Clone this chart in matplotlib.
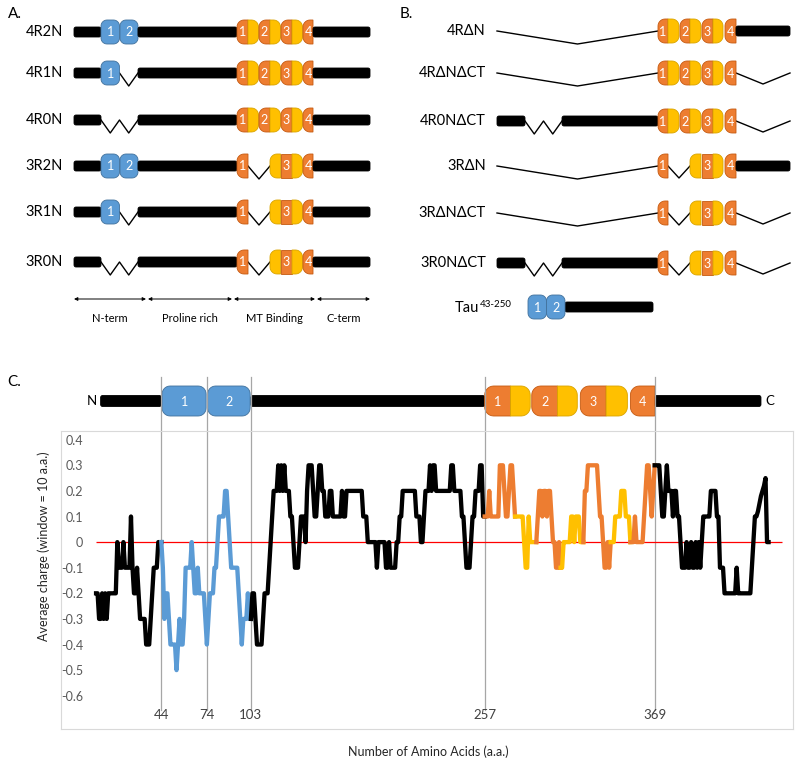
import numpy as np
import matplotlib.pyplot as plt
from matplotlib.patches import Polygon
from matplotlib.transforms import blended_transform_factory

plt.rcParams['font.family'] = ['Lato', 'DejaVu Sans']

# ---------------- data ----------------
# panel A: the six tau isoforms
a_isoforms = ['4R2N', '4R1N', '4R0N', '3R2N', '3R1N', '3R0N']
a_n_inserts = [2, 1, 0, 2, 1, 0]
a_repeats = [4, 4, 4, 3, 3, 3]
a_domains = ['N-term', 'Proline rich', 'MT Binding', 'C-term']

# panel B: truncated constructs
b_constructs = ['4R\u0394N', '4R\u0394N\u0394CT', '4R0N\u0394CT', '3R\u0394N', '3R\u0394N\u0394CT', '3R0N\u0394CT']
b_n_term = ['dN', 'dN', '0N', 'dN', 'dN', '0N']
b_repeats = [4, 4, 4, 3, 3, 3]
b_c_term = [True, False, False, True, False, False]
fragment_name = 'Tau'
fragment_range = '43-250'

# panel C: domain borders (residue) and sliding window average charge per residue
c_boundaries = [44, 74, 103, 257, 369]
c_n_inserts = [(44.5, 73.5), (74.5, 102.5)]
c_repeats = [(257, 274, 287), (288, 305, 318), (320, 337, 351), (353, 369)]
c_n_tail = (4, 44)
c_linker = (103, 257)
c_c_tail = (369, 439)
y_ticks = [-0.6, -0.5, -0.4, -0.3, -0.2, -0.1, 0, 0.1, 0.2, 0.3, 0.4]
charge = [
    -0.2, -0.2, -0.3, -0.3, -0.2, -0.3, -0.2, -0.3, -0.2, -0.2,
    -0.2, -0.2, -0.2, -0.2, 0, -0.1, -0.1, -0.1, 0, -0.1,
    -0.1, -0.1, -0.1, 0.1, -0.1, -0.2, -0.2, -0.1, -0.2, -0.3,
    -0.3, -0.3, -0.3, -0.4, -0.4, -0.4, -0.3, -0.2, -0.1, -0.1,
    -0.1, 0, 0, 0, -0.1, -0.3, -0.2, -0.2, -0.3, -0.4,
    -0.4, -0.4, -0.4, -0.5, -0.4, -0.3, -0.4, -0.4, -0.3, -0.1,
    -0.1, -0.1, -0.1, 0, -0.1, -0.2, -0.2, -0.1, -0.2, -0.2,
    -0.2, -0.2, -0.3, -0.4, -0.3, -0.2, -0.2, -0.2, -0.1, -0.1,
    0, 0.1, 0.1, 0.1, 0.1, 0.2, 0.2, 0.1, 0, -0.1,
    -0.1, -0.1, -0.1, -0.1, -0.2, -0.3, -0.4, -0.3, -0.3, -0.3,
    -0.2, -0.3, -0.3, -0.2, -0.2, -0.3, -0.4, -0.4, -0.4, -0.4,
    -0.3, -0.2, -0.2, -0.2, -0.1, 0, 0.1, 0.2, 0.2, 0.2,
    0.3, 0.2, 0.3, 0.2, 0.3, 0.2, 0.2, 0.2, 0.1, 0.1,
    0, -0.1, -0.1, -0.1, 0, 0.1, 0.1, 0.1, 0, 0.2,
    0.3, 0.3, 0.3, 0.2, 0.1, 0.1, 0.2, 0.3, 0.3, 0.2,
    0.2, 0.1, 0.1, 0.1, 0.2, 0.2, 0.1, 0.1, 0.1, 0.1,
    0.1, 0.1, 0.2, 0.1, 0.1, 0.2, 0.2, 0.2, 0.2, 0.2,
    0.2, 0.2, 0.2, 0.2, 0.2, 0.2, 0.1, 0.1, 0.1, 0,
    0, 0, 0, 0, 0, -0.1, 0, 0, 0, 0,
    0, -0.1, -0.1, 0, -0.1, -0.1, -0.1, -0.1, 0, 0,
    0.1, 0.1, 0.2, 0.2, 0.2, 0.2, 0.2, 0.2, 0.2, 0.2,
    0.2, 0.1, 0.1, 0.1, 0, 0, 0.1, 0.2, 0.2, 0.2,
    0.3, 0.2, 0.3, 0.3, 0.2, 0.2, 0.2, 0.2, 0.2, 0.2,
    0.2, 0.2, 0.2, 0.2, 0.3, 0.3, 0.2, 0.2, 0.2, 0.2,
    0.2, 0.1, 0.1, 0, -0.1, -0.1, -0.1, 0, 0.1, 0.1,
    0.2, 0.2, 0.2, 0.3, 0.3, 0.1, 0.1, 0.1, 0.1, 0.2,
    0.1, 0.1, 0.1, 0.1, 0.1, 0.1, 0.3, 0.3, 0.3, 0.2,
    0.1, 0.1, 0.2, 0.3, 0.3, 0.2, 0.1, 0.1, 0.1, 0.1,
    0.1, 0.1, 0, -0.1, -0.1, 0.1, 0, 0, 0, 0,
    0, 0.1, 0.2, 0.2, 0.1, 0.2, 0.2, 0.1, 0.2, 0.2,
    0.1, 0, 0, -0.1, -0.1, 0, -0.1, -0.1, 0, 0,
    0, 0, 0, 0.1, 0.1, 0, 0.1, 0.1, 0.1, 0,
    0, 0, 0.2, 0.2, 0.3, 0.3, 0.3, 0.3, 0.3, 0.3,
    0.3, 0.2, 0.1, 0.1, 0, -0.1, -0.1, 0, -0.1, 0,
    0, 0, 0.1, 0.1, 0.1, 0.1, 0.2, 0.2, 0.2, 0.1,
    0.1, 0.1, 0, 0, 0, 0.1, 0, 0, 0, 0,
    0, 0.1, 0.2, 0.3, 0.3, 0.2, 0.1, 0.2, 0.3, 0.3,
    0.3, 0.3, 0.2, 0.1, 0.1, 0.2, 0.3, 0.2, 0.2, 0.2,
    0.1, 0.2, 0.2, 0.1, 0.1, 0, -0.1, -0.1, -0.1, 0,
    -0.1, -0.1, 0, -0.1, -0.1, 0, -0.1, 0, -0.1, 0,
    0.1, 0.1, 0.1, 0.1, 0.1, 0.2, 0.2, 0.2, 0.2, 0.1,
    0.1, -0.1, -0.1, -0.1, -0.2, -0.2, -0.2, -0.2, -0.2, -0.2,
    -0.2, -0.2, -0.1, -0.2, -0.2, -0.2, -0.2, -0.2, -0.2, -0.2,
    -0.2, -0.2, -0.1, 0, 0.1, 0.1, 0.12, 0.15, 0.18, 0.2,
    0.22, 0.25, 0, 0,
]
color_breaks = [1, 44, 103, 257, 277, 291, 307, 322, 340, 353, 369, 444]
zero_line_end = 453

BLUE, BLUE_EDGE = '#5b9bd5', '#41719c'
ORANGE, ORANGE_EDGE = '#ed7d31', '#c55a11'
YELLOW, YELLOW_EDGE = '#ffc000', '#d9a400'
segment_colors = ['black', BLUE, 'black', ORANGE, YELLOW, ORANGE, YELLOW,
                  ORANGE, YELLOW, ORANGE, 'black']

fig = plt.figure(figsize=(8, 7.75), dpi=100)
bg = fig.add_axes([0, 0, 1, 1])
bg.set_xlim(0, 800)
bg.set_ylim(775, 0)
bg.axis('off')

ax = fig.add_axes([61 / 800, 46 / 775, 732 / 800, 298 / 775])
ax.set_xlim(-22.1, 460.1)
ax.set_ylim(-0.73, 0.434)
ax.set_facecolor('none')


def rounded_shape(x0, x1, yc, h, rl=0.0, rr=0.0, sx=1.0):
    y0, y1 = yc - h / 2, yc + h / 2
    t = np.linspace(0, np.pi / 2, 8)
    pts = []
    for cx, cy, r, a0 in [(x0 + rl * sx, y0 + rl, rl, np.pi),
                          (x1 - rr * sx, y0 + rr, rr, 1.5 * np.pi),
                          (x1 - rr * sx, y1 - rr, rr, 0.0),
                          (x0 + rl * sx, y1 - rl, rl, 0.5 * np.pi)]:
        a = a0 + t
        pts += list(zip(cx + r * sx * np.cos(a), cy + r * np.sin(a)))
    return pts


def piece(x0, x1, yc, h, color, edge, rl=0.0, rr=0.0, sx=1.0, tr=None,
          text=None, fs=9):
    tr = tr or bg.transData
    bg.add_patch(Polygon(rounded_shape(x0, x1, yc, h, rl, rr, sx), closed=True,
                         facecolor=color, edgecolor=edge, lw=0.6,
                         transform=tr, zorder=3))
    if text:
        bg.text((x0 + x1) / 2, yc + 0.5, text, color='white', ha='center',
                va='center', fontsize=fs, transform=tr, zorder=4)


def bar(x0, x1, yc, t=10, sx=1.0, tr=None):
    piece(x0, x1, yc, t, 'black', 'black', 2, 2, sx, tr)


def zig(x0, x1, n_v, yc, depth, tr=None):
    xs = np.linspace(x0, x1, 2 * n_v + 1)
    ys = [yc + depth * (i % 2) for i in range(len(xs))]
    bg.plot(xs, ys, color='black', lw=1.0, transform=tr or bg.transData,
            zorder=2)


def draw_repeats(rep, n_rep, yc, h, r, depth, sx=1.0, tr=None, fs=9):
    for k, seg in enumerate(rep):
        num = str(k + 1)
        if len(seg) == 2:
            piece(seg[0], seg[1], yc, h, ORANGE, ORANGE_EDGE, rl=r, sx=sx,
                  tr=tr, text=num, fs=fs)
        elif n_rep == 3 and k == 0:
            piece(seg[0], seg[1], yc, h, ORANGE, ORANGE_EDGE, rl=r, sx=sx,
                  tr=tr, text=num, fs=fs)
        elif n_rep == 3 and k == 1:
            zig(rep[0][1], seg[1], 1, yc, depth, tr)
            piece(seg[1], seg[2], yc, h, YELLOW, YELLOW_EDGE, rl=r, sx=sx,
                  tr=tr)
        else:
            rl = 0 if n_rep == 3 else r
            piece(seg[0], seg[1], yc, h, ORANGE, ORANGE_EDGE, rl=rl, sx=sx,
                  tr=tr, text=num, fs=fs)
            piece(seg[1], seg[2], yc, h, YELLOW, YELLOW_EDGE, rr=r, sx=sx,
                  tr=tr)


# ---------------- panel A ----------------
A_ROWS = [32, 73, 120, 166, 212, 262]
A_N = [(101, 119.5), (120, 138)]
A_REP = [(237, 248, 258.5), (259, 270, 280.5), (281, 292, 302.5), (303, 313)]
bg.text(8, 14, 'A.', fontsize=11, va='center')
for name, n_ins, n_rep, y in zip(a_isoforms, a_n_inserts, a_repeats, A_ROWS):
    bg.text(63, y, name, ha='right', va='center', fontsize=10.5)
    bar(74, 101, y)
    if n_ins == 2:
        for k, (x0, x1) in enumerate(A_N):
            piece(x0, x1, y, 24, BLUE, BLUE_EDGE, 6, 6, text=str(k + 1))
    elif n_ins == 1:
        piece(A_N[0][0], A_N[0][1], y, 24, BLUE, BLUE_EDGE, 6, 6, text='1')
        zig(A_N[0][1], A_N[1][1], 1, y, 13)
    else:
        zig(A_N[0][0], A_N[1][1], 2, y, 13)
    bar(138, 237, y)
    draw_repeats(A_REP, n_rep, y, 24, 7, 13)
    bar(313, 370, y)

for (x0, x1), name in zip([(74, 146), (148, 232), (234, 315), (317, 370)],
                          a_domains):
    bg.annotate('', xy=(x1, 299), xytext=(x0, 299),
                arrowprops=dict(arrowstyle='<|-|>', lw=0.7, color='black',
                                mutation_scale=5, shrinkA=0, shrinkB=0))
    bg.text((x0 + x1) / 2, 318, name, ha='center', va='center', fontsize=8)

# ---------------- panel B ----------------
B_ROWS = [31, 73, 121, 166, 213, 263]
B_REP = [(658, 668, 679), (680, 690, 701), (702, 713, 723), (725, 736)]
bg.text(400, 14, 'B.', fontsize=11, va='center')
for name, nt, n_rep, ct, y in zip(b_constructs, b_n_term, b_repeats,
                                  b_c_term, B_ROWS):
    bg.text(486, y, name, ha='right', va='center', fontsize=10.5)
    if nt == 'dN':
        zig(497, 658, 1, y, 13)
    else:
        bar(497, 525, y)
        zig(525, 562, 2, y, 13)
        bar(562, 658, y)
    draw_repeats(B_REP, n_rep, y, 24, 7, 12)
    if ct:
        bar(736, 790, y)
    else:
        zig(736, 790, 1, y, 11)

t = bg.text(455, 308, fragment_name, ha='left', va='center', fontsize=10.5)
bg.annotate(fragment_range, xy=(1, 0.45), xycoords=t, ha='left', va='bottom',
            fontsize=7)
bar(565, 653, 307)
piece(528, 546.5, 307, 24, BLUE, BLUE_EDGE, 6, 6, text='1')
piece(546.5, 565, 307, 24, BLUE, BLUE_EDGE, 6, 6, text='2')

# ---------------- panel C ----------------
bg.text(7, 382, 'C.', fontsize=11, va='center')
tr = blended_transform_factory(ax.transData, bg.transData)
sx = (460.1 + 22.1) / 732
C_Y = 401
bar(c_n_tail[0], c_n_tail[1], C_Y, t=11, sx=sx, tr=tr)
bar(c_linker[0], c_linker[1], C_Y, t=11, sx=sx, tr=tr)
bar(c_c_tail[0], c_c_tail[1], C_Y, t=11, sx=sx, tr=tr)
for k, (x0, x1) in enumerate(c_n_inserts):
    piece(x0, x1, C_Y, 30, BLUE, BLUE_EDGE, 8, 8, sx=sx, tr=tr,
          text=str(k + 1), fs=9)
draw_repeats(c_repeats, 4, C_Y, 30, 9, 0, sx=sx, tr=tr, fs=9)
bg.text(1.5, C_Y, 'N', ha='right', va='center', fontsize=9.5, transform=tr)
bg.text(442, C_Y, 'C', ha='left', va='center', fontsize=9.5, transform=tr)

res = np.arange(1, len(charge) + 1)
vals = np.array(charge)
ax.hlines(0, res[0], zero_line_end, color='#ff0000', lw=0.9, zorder=1)
for i, c in enumerate(segment_colors):
    m = (res >= color_breaks[i]) & (res <= color_breaks[i + 1])
    ax.plot(res[m], vals[m], color=c, lw=3.1, zorder=3)

for b in c_boundaries:
    ax.axvline(b, ymin=0.064, ymax=1.181, color='#a6a6a6', lw=0.9,
               clip_on=False, zorder=0)

ax.set_xticks(c_boundaries)
ax.set_xticklabels([str(b) for b in c_boundaries])
ax.tick_params(axis='x', length=0, pad=-14.5, labelsize=9.5,
               labelcolor='#404040')
ax.set_yticks(y_ticks)
ax.set_yticklabels(['0' if v == 0 else f'{v:g}' for v in y_ticks])
ax.tick_params(axis='y', length=0, pad=-16, labelsize=9,
               labelcolor='#595959')
for s in ax.spines.values():
    s.set_color('#d9d9d9')
    s.set_linewidth(0.8)

bg.text(44, 546, 'Average charge (window = 10 a.a.)', rotation=90,
        ha='center', va='center', fontsize=9, color='#262626')
bg.text(428, 752, 'Number of Amino Acids (a.a.)', ha='center', va='center',
        fontsize=9, color='#262626')

fig.savefig('out.png', dpi=100)
